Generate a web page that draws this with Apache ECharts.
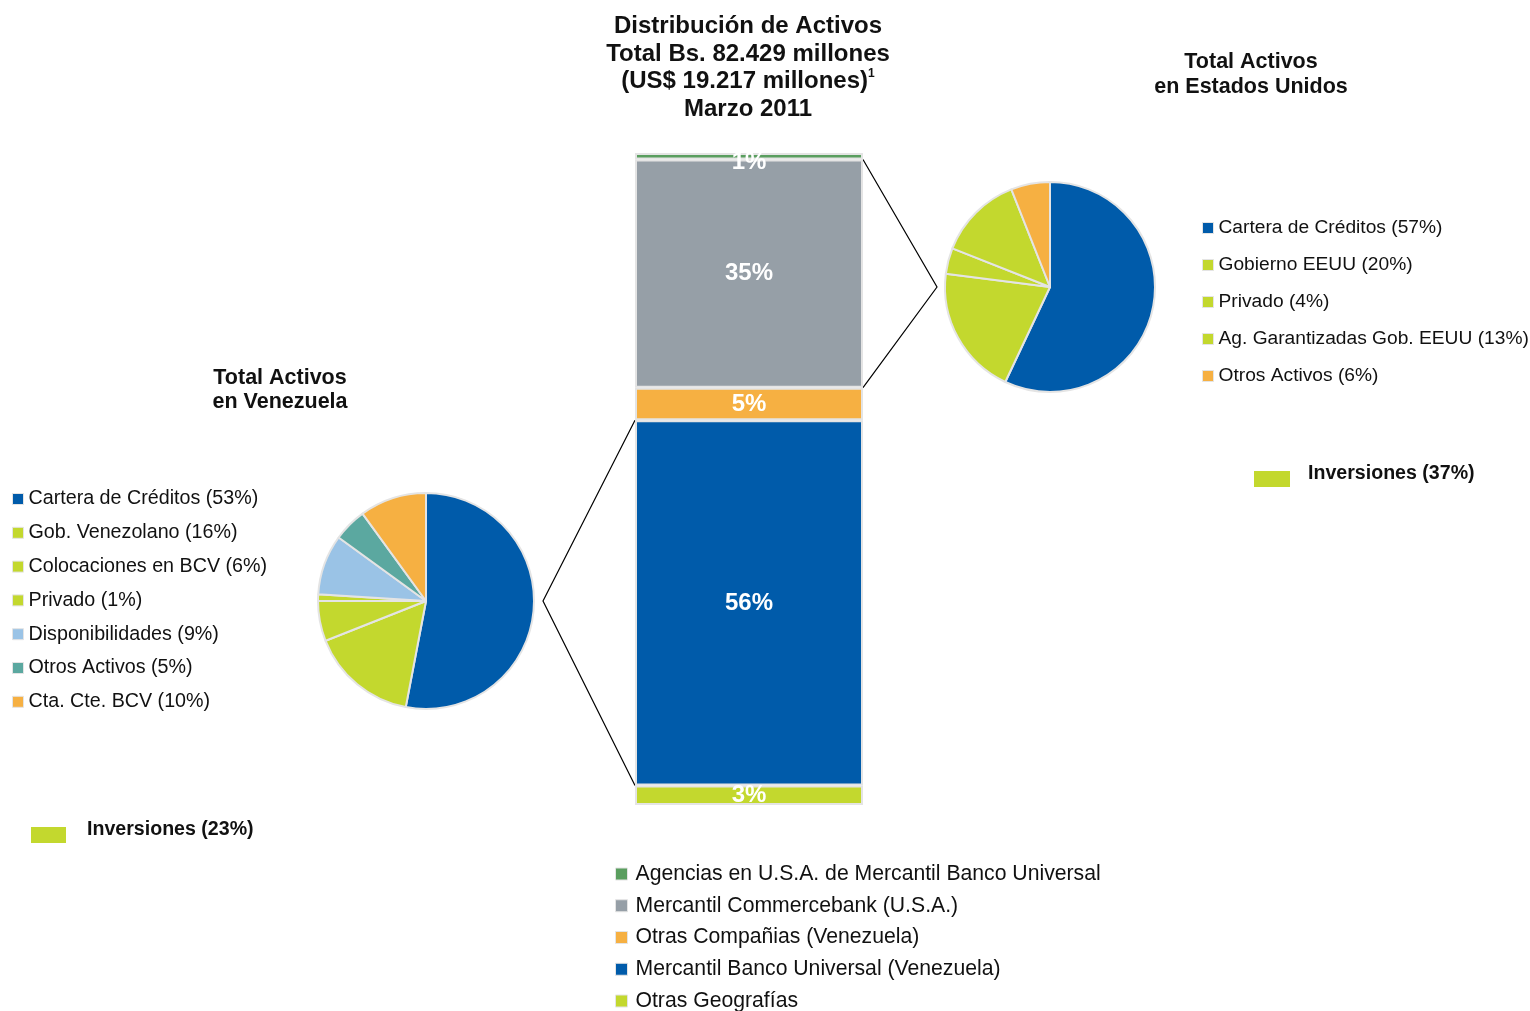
<!DOCTYPE html>
<html>
<head>
<meta charset="utf-8">
<script src="https://cdn.jsdelivr.net/npm/echarts@6/dist/echarts.min.js"></script>
<style>
  html, body { margin: 0; padding: 0; background: #fff; }
  #chart { width: 1530px; height: 1011px; }
</style>
</head>
<body>
<div id="chart"></div>
<script>
// 柱状图：各公司占比（自下而上堆叠）
const barNames = [
  'Otras Geografías',
  'Mercantil Banco Universal (Venezuela)',
  'Otras Compañias (Venezuela)',
  'Mercantil Commercebank (U.S.A.)',
  'Agencias en U.S.A. de Mercantil Banco Universal'
]
const barValues = [3, 56, 5, 35, 1]
const barColors = ['#c3d82e', '#005baa', '#f6b042', '#969fa7', '#5a9e5f']

// 委内瑞拉资产
const venNames = ['Cartera de Créditos', 'Gob. Venezolano', 'Colocaciones en BCV', 'Privado',
  'Disponibilidades', 'Otros Activos', 'Cta. Cte. BCV']
const venValues = [53, 16, 6, 1, 9, 5, 10]
const venColors = ['#005baa', '#c3d82e', '#c3d82e', '#c3d82e', '#9ac3e6', '#5ba8a0', '#f6b042']
const venInversiones = [1, 2, 3] // indices of investment slices

// 美国资产
const usaNames = ['Cartera de Créditos', 'Gobierno EEUU', 'Privado', 'Ag. Garantizadas Gob. EEUU', 'Otros Activos']
const usaValues = [57, 20, 4, 13, 6]
const usaColors = ['#005baa', '#c3d82e', '#c3d82e', '#c3d82e', '#f6b042']
const usaInversiones = [1, 2, 3]

const FONT = '"Liberation Sans", Arial, sans-serif'
const LIME = '#c3d82e'
const EDGE = '#e4e4e4'

// layout
const bar = { left: 635, top: 153, width: 228, height: 652 }
const venPie = { cx: 426, cy: 601, r: 108 }
const usaPie = { cx: 1050, cy: 287, r: 105 }

const label = (n, v) => `${n} (${v}%)`
const venData = venNames.map((n, i) => ({ name: label(n, venValues[i]), value: venValues[i], itemStyle: { color: venColors[i] } }))
const usaData = usaNames.map((n, i) => ({ name: label(n, usaValues[i]), value: usaValues[i], itemStyle: { color: usaColors[i] } }))
const sumIdx = (vals, idx) => idx.reduce((s, i) => s + vals[i], 0)

const chart = echarts.init(document.getElementById('chart'))

const barSeries = barNames.map((n, i) => ({
  name: n,
  type: 'bar',
  stack: 'total',
  barWidth: '100%',
  data: [barValues[i]],
  itemStyle: { color: barColors[i], borderColor: EDGE, borderWidth: 2 },
  label: {
    show: true,
    position: 'inside',
    formatter: '{c}%',
    color: '#fff',
    fontWeight: 'bold',
    fontSize: 24,
    fontFamily: FONT,
    offset: i === barNames.length - 1 ? [0, 6] : [0, 0]
  }
}))

const pieBase = {
  type: 'pie',
  startAngle: 90,
  clockwise: true,
  label: { show: false },
  labelLine: { show: false },
  itemStyle: { borderColor: EDGE, borderWidth: 2 },
  emphasis: { disabled: true }
}

const legendText = (size, lh, pad) => ({ fontSize: size, lineHeight: lh, fontFamily: FONT, color: '#111', padding: [0, 0, 0, pad || 0] })

const option = {
  animation: false,
  backgroundColor: '#fff',
  title: [
    {
      text: 'Distribución de Activos\nTotal Bs. 82.429 millones\n(US$ 19.217 millones){sup|1}\nMarzo 2011',
      left: 748,
      top: 13,
      textAlign: 'center',
      padding: 0,
      textStyle: {
        fontFamily: FONT, fontWeight: 'bold', fontSize: 24, lineHeight: 27.5, color: '#111',
        rich: { sup: { fontFamily: FONT, fontWeight: 'bold', fontSize: 12, lineHeight: 14, verticalAlign: 'top', color: '#111' } }
      }
    },
    {
      text: 'Total Activos\nen Venezuela',
      left: 280, top: 366, textAlign: 'center', padding: 0,
      textStyle: { fontFamily: FONT, fontWeight: 'bold', fontSize: 21.5, lineHeight: 24, color: '#111' }
    },
    {
      text: 'Total Activos\nen Estados Unidos',
      left: 1251, top: 50, textAlign: 'center', padding: 0,
      textStyle: { fontFamily: FONT, fontWeight: 'bold', fontSize: 21.5, lineHeight: 25, color: '#111' }
    }
  ],
  legend: [
    {
      data: barNames.slice().reverse(),
      orient: 'vertical', left: 615, top: 863, height: 200, padding: 0,
      itemGap: 9.75, itemWidth: 12, itemHeight: 12, icon: 'rect',
      itemStyle: { borderWidth: 1 },
      selectedMode: false,
      textStyle: legendText(21.2, 22, 3)
    },
    {
      data: venData.map(d => d.name),
      orient: 'vertical', left: 12, top: 489, padding: 0,
      itemGap: 13.8, itemWidth: 11, itemHeight: 11, icon: 'rect',
      itemStyle: { borderWidth: 1 },
      selectedMode: false,
      textStyle: legendText(19.7, 20)
    },
    {
      data: usaData.map(d => d.name),
      orient: 'vertical', left: 1202, top: 218, padding: 0,
      itemGap: 17, itemWidth: 11, itemHeight: 11, icon: 'rect',
      itemStyle: { borderWidth: 1 },
      selectedMode: false,
      textStyle: legendText(19.2, 20)
    }
  ],
  grid: { left: bar.left, top: bar.top, width: bar.width, height: bar.height },
  xAxis: { type: 'category', data: ['Total'], show: false },
  yAxis: { type: 'value', min: 0, max: 100, show: false },
  series: [
    ...barSeries,
    { ...pieBase, name: 'Venezuela', center: [venPie.cx, venPie.cy], radius: venPie.r, data: venData },
    { ...pieBase, name: 'USA', center: [usaPie.cx, usaPie.cy], radius: usaPie.r, data: usaData }
  ]
}

chart.setOption(option)

// 连接线与“Inversiones”标注
const yAt = v => chart.convertToPixel({ yAxisIndex: 0 }, v)
const cum = i => barValues.slice(0, i).reduce((s, v) => s + v, 0)
const barRight = bar.left + bar.width

const venTop = yAt(cum(2)) // top of Mercantil Banco Universal
const venBot = yAt(cum(1))
const usaTop = yAt(cum(4)) // top of Commercebank
const usaBot = yAt(cum(3))

chart.setOption({
  graphic: [
    {
      id: 'lineVen', type: 'polyline', silent: true,
      shape: { points: [[bar.left, venTop], [venPie.cx + venPie.r + 9, venPie.cy], [bar.left, venBot]] },
      style: { stroke: '#000', lineWidth: 1.2, fill: null }
    },
    {
      id: 'lineUsa', type: 'polyline', silent: true,
      shape: { points: [[barRight, usaTop], [usaPie.cx - usaPie.r - 8, usaPie.cy], [barRight, usaBot]] },
      style: { stroke: '#000', lineWidth: 1.2, fill: null }
    },
    { id: 'invVenBox', type: 'rect', silent: true, shape: { x: 31, y: 827, width: 35, height: 16 }, style: { fill: LIME } },
    {
      id: 'invVenTxt', type: 'text', silent: true, x: 87, y: 830,
      style: { text: `Inversiones (${sumIdx(venValues, venInversiones)}%)`, font: `bold 19.6px ${FONT}`, fill: '#111', verticalAlign: 'middle' }
    },
    { id: 'invUsaBox', type: 'rect', silent: true, shape: { x: 1254, y: 471, width: 36, height: 16 }, style: { fill: LIME } },
    {
      id: 'invUsaTxt', type: 'text', silent: true, x: 1308, y: 474,
      style: { text: `Inversiones (${sumIdx(usaValues, usaInversiones)}%)`, font: `bold 19.6px ${FONT}`, fill: '#111', verticalAlign: 'middle' }
    }
  ]
})
</script>
</body>
</html>
